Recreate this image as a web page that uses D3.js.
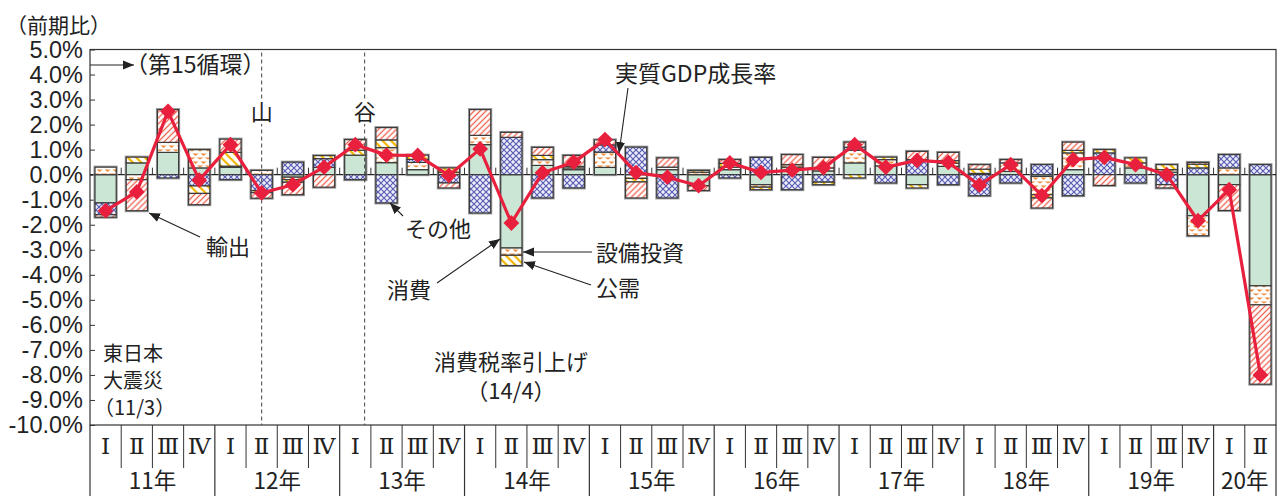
<!DOCTYPE html>
<html><head><meta charset="utf-8">
<script src="https://cdn.jsdelivr.net/npm/d3@7"></script>
<style>body{margin:0;background:#fff}svg{display:block}</style>
</head><body>
<svg id="c" width="1280" height="496"></svg>
<script>
// ---- data ----
const quarters = ["11Q1","11Q2","11Q3","11Q4","12Q1","12Q2","12Q3","12Q4","13Q1","13Q2","13Q3","13Q4",
  "14Q1","14Q2","14Q3","14Q4","15Q1","15Q2","15Q3","15Q4","16Q1","16Q2","16Q3","16Q4",
  "17Q1","17Q2","17Q3","17Q4","18Q1","18Q2","18Q3","18Q4","19Q1","19Q2","19Q3","19Q4","20Q1","20Q2"];
const quarterNames = ["Ⅰ","Ⅱ","Ⅲ","Ⅳ"];
const yearLabels = ["11年","12年","13年","14年","15年","16年","17年","18年","19年","20年"];
const yTicks = [5,4,3,2,1,0,-1,-2,-3,-4,-5,-6,-7,-8,-9,-10];

const consumption  = [-1.13,0.47,0.89,0.27,0.29,0,-0.1,0.29,0.78,0.48,0.2,0,1.2,-2.93,0.37,0.2,0.29,0,0.2,-0.44,0.2,-0.4,0.3,0.15,0.47,0.35,-0.4,0.33,0.05,0.13,-0.07,0.2,0,0.27,0.1,-1.64,-0.4,-4.44];
const capex        = [0.3,-0.2,0.4,0.73,0.05,0.17,-0.1,0,0,0.6,0.29,0.1,0.37,-0.29,0.23,0.07,0.61,-0.15,0.1,0.1,0.1,-0.1,0.1,0.12,0.5,0.25,0,0.13,0,0.34,-0.73,0.67,0,0.2,0.1,-0.8,0.27,-0.76];
const other        = [-0.47,0,-0.13,-0.45,-0.2,-0.64,0.5,0.35,-0.2,-1.13,0.12,-0.33,-1.53,1.49,-0.93,-0.53,0.29,1.1,-0.93,0,-0.13,0.69,-0.6,-0.3,0.13,-0.33,0.6,-0.4,-0.84,-0.33,0.4,-0.84,0.87,-0.33,-0.4,0.27,0.53,0.4];
const publicDemand = [0,0.23,0,-0.3,0.55,-0.08,-0.1,0.12,0.2,0.31,0.17,0.17,0,-0.41,0.17,0.06,0,-0.14,0,0.07,0.15,-0.1,0,-0.1,-0.13,0.1,-0.13,0.1,0.17,0,-0.13,0.1,0.13,0.2,0.2,0.15,0,0];
const exportsS     = [-0.1,-1.24,1.31,-0.45,0.53,-0.22,-0.5,-0.5,0.42,0.49,0,-0.2,1.03,0.2,0.32,0.44,0.2,-0.64,0.37,-0.19,0.15,0,0.4,0.42,0.2,0,0.33,0.33,0.18,0.13,-0.4,0.33,-0.43,0,-0.13,0.07,-1.03,-3.17];
const gdp          = [-1.44,-0.69,2.53,-0.22,1.2,-0.73,-0.4,0.3,1.2,0.78,0.77,-0.03,1.03,-1.93,0.08,0.5,1.4,0.08,-0.1,-0.44,0.47,0.09,0.18,0.28,1.2,0.3,0.57,0.49,-0.42,0.4,-0.84,0.6,0.69,0.4,0,-1.84,-0.6,-8.0];
const seriesKeys = ["消費","設備投資","その他","公需","輸出"];
const seriesData = {"消費":consumption,"設備投資":capex,"その他":other,"公需":publicDemand,"輸出":exportsS};
// business-cycle marks (position in quarter units from 11Q1 start)
const cycleMarks = [{label:"山", pos:5.5},{label:"谷", pos:8.8}];

// ---- setup ----
const svg = d3.select("#c");
const JP = "'Noto Sans CJK JP','Noto Sans',sans-serif";
const L = 90, R = 1276, T = 49.5, B = 425;
const x = d3.scaleBand().domain(quarters).range([L, R]).paddingInner(0.32).paddingOuter(0.16);
const step = x.step();
const y = d3.scaleLinear().domain([-10, 5]).range([B, T]);
const bx = i => L + i * step;

const defs = svg.append("defs");
function linePattern(id, color, spacing, width, angle, bg) {
  const p = defs.append("pattern").attr("id", id).attr("patternUnits","userSpaceOnUse")
    .attr("width", spacing).attr("height", spacing).attr("patternTransform", `rotate(${angle})`);
  p.append("rect").attr("width", spacing).attr("height", spacing).attr("fill", bg);
  p.append("line").attr("x1", spacing/2).attr("x2", spacing/2).attr("y1", 0).attr("y2", spacing)
    .attr("stroke", color).attr("stroke-width", width);
}
linePattern("pExp", "#f0624f", 4.2, 1.3, 45, "#fff");
linePattern("pPub", "#f2b600", 6, 2.2, -45, "#fff");
{
  const p = defs.append("pattern").attr("id","pOth").attr("patternUnits","userSpaceOnUse").attr("width",6).attr("height",6);
  p.append("rect").attr("width",6).attr("height",6).attr("fill","#eceefa");
  p.append("path").attr("d","M0,0L6,6M6,0L0,6").attr("stroke","#5b5db3").attr("stroke-width",1.2).attr("fill","none");
}
{
  const p = defs.append("pattern").attr("id","pCap").attr("patternUnits","userSpaceOnUse").attr("width",8).attr("height",8);
  p.append("rect").attr("width",8).attr("height",8).attr("fill","#fff");
  p.append("path").attr("d","M0.5,1.5L6.5,1.5L3.5,4Z M4.5,5.5L8,5.5L8,7.5Z M0,5.5L3.5,5.5L0,7.5Z").attr("fill","#f08c3c");
}
const fills = {"消費":"#cce6d5","設備投資":"url(#pCap)","その他":"url(#pOth)","公需":"url(#pPub)","輸出":"url(#pExp)"};

defs.append("marker").attr("id","arr").attr("viewBox","0 0 10 10").attr("refX",10).attr("refY",5)
  .attr("markerWidth",11).attr("markerHeight",11).attr("markerUnits","userSpaceOnUse").attr("orient","auto")
  .append("path").attr("d","M0,0.8L10,5L0,9.2Z").attr("fill","#222");

const rows = quarters.map((q, i) => {
  const r = {q};
  seriesKeys.forEach(k => r[k] = seriesData[k][i]);
  return r;
});
const stacked = d3.stack().keys(seriesKeys).offset(d3.stackOffsetDiverging)(rows);

// frame
svg.append("rect").attr("x", L).attr("y", T).attr("width", R - L).attr("height", B - T)
  .attr("fill","none").attr("stroke","#333").attr("stroke-width",1.2);

// y axis
const yAxis = d3.axisLeft(y).tickValues(yTicks).tickSizeInner(-5).tickSizeOuter(0).tickPadding(7)
  .tickFormat(d => d.toFixed(1) + "%");
const ga = svg.append("g").attr("transform", `translate(${L},0)`).call(yAxis);
ga.select(".domain").remove();
ga.selectAll(".tick line").attr("stroke","#333");
ga.selectAll(".tick text").attr("font-family","'Liberation Sans',Arial,sans-serif").attr("font-size",23.5).attr("fill","#222");

// zero line and quarter ticks
svg.append("line").attr("x1", L).attr("x2", R).attr("y1", y(0)).attr("y2", y(0)).attr("stroke","#222").attr("stroke-width",1.3);
svg.append("g").selectAll("line").data(d3.range(1, quarters.length)).join("line")
  .attr("x1", i => bx(i)).attr("x2", i => bx(i)).attr("y1", y(0)).attr("y2", y(0) - 7)
  .attr("stroke","#333").attr("stroke-width",1);

// bar halos
svg.append("g").selectAll("rect").data(quarters).join("rect")
  .attr("x", q => x(q)).attr("width", x.bandwidth())
  .attr("y", (q, i) => y(d3.max(stacked, s => s[i][1])))
  .attr("height", (q, i) => y(d3.min(stacked, s => s[i][0])) - y(d3.max(stacked, s => s[i][1])))
  .attr("fill","none").attr("stroke","#9a9a9a").attr("stroke-width",3);

// bars
svg.append("g").selectAll("g").data(stacked).join("g").attr("fill", s => fills[s.key])
  .selectAll("rect").data(s => s.filter(d => Math.abs(d[1] - d[0]) > 1e-9)).join("rect")
  .attr("x", d => x(d.data.q)).attr("width", x.bandwidth())
  .attr("y", d => y(Math.max(d[0], d[1]))).attr("height", d => Math.abs(y(d[0]) - y(d[1])))
  .attr("stroke","#3a3a3a").attr("stroke-width",1.2);

// cycle dashed lines
cycleMarks.forEach(m => {
  const xx = bx(m.pos);
  svg.append("line").attr("x1", xx).attr("x2", xx).attr("y1", T + 3).attr("y2", B)
    .attr("stroke","#444").attr("stroke-width",1).attr("stroke-dasharray","4,3");
});
svg.selectAll(".cyc").data(cycleMarks).join("g").each(function(m) {
  const g = d3.select(this), xx = bx(m.pos);
  g.append("rect").attr("x", xx - 12).attr("y", 99).attr("width", 24).attr("height", 25).attr("fill","#fff");
  g.append("text").attr("x", xx).attr("y", 120).attr("text-anchor","middle")
    .attr("font-family", JP).attr("font-size", 22).attr("fill","#222").text(m.label);
});

// GDP line
const cx = i => x(quarters[i]) + x.bandwidth() / 2;
svg.append("path").datum(gdp).attr("fill","none").attr("stroke","#e8203d").attr("stroke-width",3.2)
  .attr("stroke-linejoin","round")
  .attr("d", d3.line().x((d, i) => cx(i)).y(d => y(d)));
svg.append("g").selectAll("path").data(gdp).join("path")
  .attr("d", d3.symbol(d3.symbolSquare, 125)())
  .attr("transform", (d, i) => `translate(${cx(i)},${y(d)}) rotate(45)`)
  .attr("fill","#e8203d");

// category axis
const axG = svg.append("g");
axG.append("g").selectAll("text").data(quarters).join("text")
  .attr("x", q => x(q) + x.bandwidth() / 2).attr("y", 454).attr("text-anchor","middle")
  .attr("font-family","'DejaVu Serif','Liberation Serif',serif").attr("font-size",23).attr("fill","#222")
  .text((q, i) => quarterNames[i % 4]);
axG.append("g").selectAll("line").data(d3.range(1, quarters.length).filter(i => i % 4 !== 0)).join("line")
  .attr("x1", i => bx(i)).attr("x2", i => bx(i)).attr("y1", B).attr("y2", 468)
  .attr("stroke","#333").attr("stroke-width",1);
axG.append("g").selectAll("line").data([0, ...d3.range(4, quarters.length, 4), quarters.length]).join("line")
  .attr("x1", i => bx(i)).attr("x2", i => bx(i)).attr("y1", B).attr("y2", 496)
  .attr("stroke","#333").attr("stroke-width",1.2);
axG.append("g").selectAll("text").data(yearLabels).join("text")
  .attr("x", (t, k) => bx(4 * k) + Math.min(4, quarters.length - 4 * k) * step / 2)
  .attr("y", 489).attr("text-anchor","middle").attr("font-family", JP).attr("font-size",22.5).attr("fill","#222")
  .text(t => t);

// annotations
function txt(s, xx, yy, anchor, fs) {
  svg.append("text").attr("x", xx).attr("y", yy).attr("text-anchor", anchor || "start")
    .attr("font-family", JP).attr("font-size", fs || 22).attr("fill","#222").text(s);
}
function arrow(x1, y1, x2, y2) {
  svg.append("line").attr("x1", x1).attr("y1", y1).attr("x2", x2).attr("y2", y2)
    .attr("stroke","#222").attr("stroke-width",1.1).attr("marker-end","url(#arr)");
}
txt("（前期比）", 6, 33, "start", 21);
arrow(L, 65, 134, 65);
txt("（第15循環）", 125, 73, "start", 23);
txt("実質GDP成長率", 615, 82, "start", 23);
arrow(628, 88, 619, 153);
txt("その他", 405, 237);
arrow(403, 216, 390, 203);
txt("輸出", 206, 255);
arrow(200, 237, 149, 213);
txt("設備投資", 596, 261);
arrow(592, 252, 523, 252);
txt("公需", 596, 296);
arrow(591, 285, 524, 262);
txt("消費", 387, 298);
arrow(437, 283, 500, 239);
txt("消費税率引上げ", 511, 370, "middle");
txt("（14/4）", 511, 399, "middle");
txt("東日本", 103, 361, "start", 20);
txt("大震災", 103, 388, "start", 20);
txt("（11/3）", 94, 415, "start", 20);
</script>
</body></html>
